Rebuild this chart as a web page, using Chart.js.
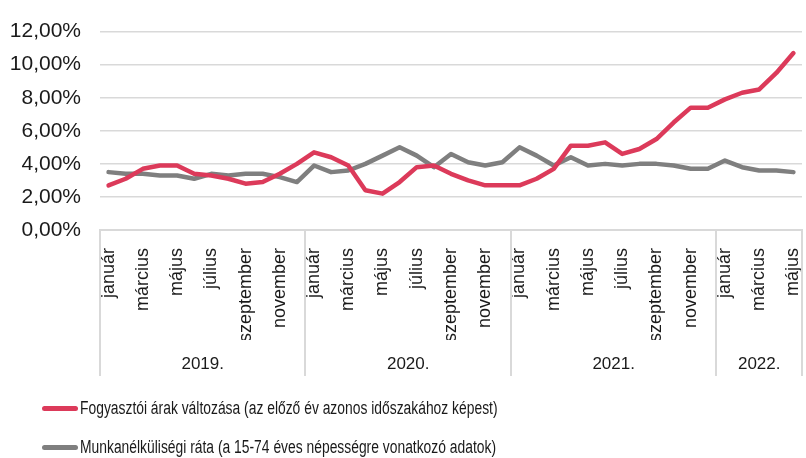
<!DOCTYPE html>
<html lang="hu">
<head>
<meta charset="utf-8">
<title>Infláció és munkanélküliség</title>
<script src="https://cdn.jsdelivr.net/npm/chart.js@4.4.1/dist/chart.umd.min.js"></script>
<style>
  body { margin: 0; background: #fff; }
  #wrap { position: relative; width: 806px; height: 458px; }
  #chart { display: block; }
  .legend-row { position: absolute; left: 42px; display: flex; align-items: center;
    font-family: "Liberation Sans", Arial, sans-serif;
    font-size: 18px; color: #1a1a1a; white-space: nowrap; }
  .legend-row .swatch { width: 36px; height: 5px; border-radius: 3px; margin-right: 2px; flex: none; }
  .legend-row .txt { display: inline-block; transform: scaleX(0.77); transform-origin: left center; }
</style>
</head>
<body>
<div id="wrap">
  <canvas id="chart" width="806" height="458"></canvas>
</div>
<script>
// months Jan 2019 - May 2022
const monthNames = ['január', 'február', 'március', 'április', 'május', 'június',
    'július', 'augusztus', 'szeptember', 'október', 'november', 'december'];
const years = ['2019.', '2020.', '2021.', '2022.'];
const monthsPerYear = [12, 12, 12, 5];

const seriesNames = [
    'Fogyasztói árak változása (az előző év azonos időszakához képest)',
    'Munkanélküliségi ráta (a 15-74 éves népességre vonatkozó adatok)'
];
const seriesColors = ['#dc3a5a', '#7f7f7f'];

const inflation = [2.7, 3.1, 3.7, 3.9, 3.9, 3.4, 3.3, 3.1, 2.8, 2.9, 3.4, 4.0,
    4.7, 4.4, 3.9, 2.4, 2.2, 2.9, 3.8, 3.9, 3.4, 3.0, 2.7, 2.7,
    2.7, 3.1, 3.7, 5.1, 5.1, 5.3, 4.6, 4.9, 5.5, 6.5, 7.4, 7.4,
    7.9, 8.3, 8.5, 9.5, 10.7];
const unemployment = [3.5, 3.4, 3.4, 3.3, 3.3, 3.1, 3.4, 3.3, 3.4, 3.4, 3.2, 2.9,
    3.9, 3.5, 3.6, 4.0, 4.5, 5.0, 4.5, 3.8, 4.6, 4.1, 3.9, 4.1,
    5.0, 4.5, 3.9, 4.4, 3.9, 4.0, 3.9, 4.0, 4.0, 3.9, 3.7, 3.7,
    4.2, 3.8, 3.6, 3.6, 3.5];

// build month labels and year group boundaries
const labels = [];
const boundaries = [0];
const groupCenters = [];
monthsPerYear.forEach((n, y) => {
    const start = labels.length;
    for (let m = 0; m < n; m++) labels.push(monthNames[m]);
    groupCenters.push(start + n / 2 - 0.5);
    boundaries.push(labels.length);
});

const textColor = '#1a1a1a';
const lineGrey = '#d9d9d9';
const baseFont = '"Liberation Sans", Arial, sans-serif';

// vertical separators between the year groups
const groupLines = {
    id: 'groupLines',
    afterDraw(chart) {
        const x2 = chart.scales.x2;
        const top = chart.scales.x.top;
        const ctx = chart.ctx;
        ctx.save();
        ctx.strokeStyle = lineGrey;
        ctx.lineWidth = 2;
        boundaries.forEach(b => {
            const px = Math.round(x2.getPixelForValue(b - 0.5));
            ctx.beginPath();
            ctx.moveTo(px, top);
            ctx.lineTo(px, x2.bottom);
            ctx.stroke();
        });
        ctx.restore();
    }
};

// no extra side padding from the bottom axes' labels
const noSidePadding = s => { s.paddingLeft = 0; s.paddingRight = 0; };

new Chart(document.getElementById('chart'), {
    type: 'line',
    data: {
        labels: labels,
        datasets: [
            { label: seriesNames[0], data: inflation, borderColor: seriesColors[0] },
            { label: seriesNames[1], data: unemployment, borderColor: seriesColors[1] }
        ]
    },
    options: {
        responsive: false,
        animation: false,
        layout: { padding: { top: 24, right: 4, bottom: 82, left: 0 } },
        elements: {
            line: { borderWidth: 4.5, tension: 0, borderCapStyle: 'round', borderJoinStyle: 'round' },
            point: { radius: 0 }
        },
        plugins: { legend: { display: false }, tooltip: { enabled: false } },
        scales: {
            y: {
                min: 0, max: 12,
                ticks: {
                    stepSize: 2, padding: 19, color: textColor,
                    font: { family: baseFont, size: 21 },
                    callback: v => v.toFixed(2).replace('.', ',') + '%'
                },
                grid: { color: lineGrey, lineWidth: 1.5, drawTicks: false },
                border: { display: false },
                afterFit: s => { s.width = 100; }
            },
            x: {
                offset: true,
                ticks: {
                    autoSkip: false, minRotation: 90, maxRotation: 90, padding: 10,
                    color: textColor, font: { family: baseFont, size: 18 },
                    callback: (v, i) => i % 2 === 0 ? labels[i] : ''
                },
                grid: { display: false },
                border: { display: true, color: lineGrey, width: 2 },
                afterFit: s => { s.height = 110; noSidePadding(s); }
            },
            x2: {
                type: 'linear', position: 'bottom',
                min: -0.5, max: labels.length - 0.5,
                afterBuildTicks: s => { s.ticks = groupCenters.map(v => ({ value: v })); },
                ticks: {
                    autoSkip: false, maxRotation: 0, padding: 6,
                    color: textColor, font: { family: baseFont, size: 17 },
                    callback: (v, i) => years[i]
                },
                grid: { display: false },
                border: { display: false },
                afterFit: s => { s.height = 36; noSidePadding(s); }
            }
        }
    },
    plugins: [groupLines]
});

// legend, one row per series
const wrap = document.getElementById('wrap');
const rowY = [408, 447];
seriesNames.forEach((name, i) => {
    const row = document.createElement('div');
    row.className = 'legend-row';
    row.style.top = (rowY[i] - 11) + 'px';
    row.style.height = '22px';
    const sw = document.createElement('span');
    sw.className = 'swatch';
    sw.style.background = seriesColors[i];
    const txt = document.createElement('span');
    txt.className = 'txt';
    txt.textContent = name;
    row.appendChild(sw);
    row.appendChild(txt);
    wrap.appendChild(row);
});
</script>
</body>
</html>
